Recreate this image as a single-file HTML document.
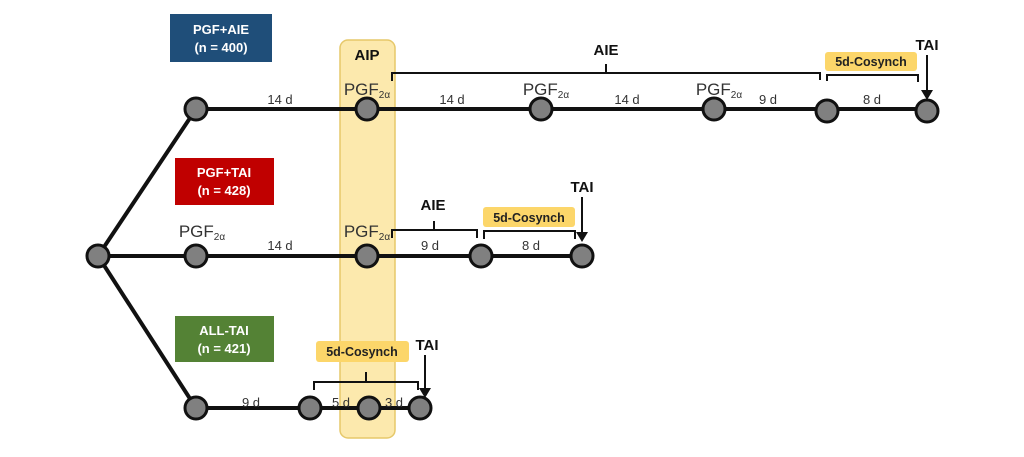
<!DOCTYPE html>
<html><head><meta charset="utf-8"><style>
body{margin:0;background:#fff;width:1024px;height:457px;overflow:hidden}
svg{display:block}
text{font-family:"Liberation Sans",Arial,sans-serif}
</style></head><body>
<svg width="1024" height="457" viewBox="0 0 1024 457">
<rect x="340" y="40" width="55" height="398" rx="8" fill="#fce9ad" stroke="#e6c86a" stroke-width="1.5"/>
<text x="367" y="60" font-size="15" font-weight="bold" text-anchor="middle" fill="#111">AIP</text>
<g stroke="#111" stroke-width="4" fill="none">
<line x1="98" y1="256" x2="196" y2="109"/><line x1="98" y1="256" x2="196" y2="408"/>
<line x1="196" y1="109" x2="927" y2="109"/>
<line x1="98" y1="256" x2="582" y2="256"/>
<line x1="196" y1="408" x2="420" y2="408"/>
</g>
<g stroke="#111" stroke-width="2" fill="none">
<path d="M392 81V73H820V80"/><path d="M606 73V64"/>
<path d="M827 81V75H918V82"/>
<path d="M392 238V230H477V238"/><path d="M434 230V221"/>
<path d="M484 239V231H575V239"/>
<path d="M314 390V382H418V390"/><path d="M366 382V372"/>
<path d="M927 55V92M582 197V234M425 355V390"/>
</g>
<g fill="#111"><path d="M921 90L927 100L933 90Z"/><path d="M576 232L582 242L588 232Z"/><path d="M419 388L425 398L431 388Z"/></g>
<g fill="#808080" stroke="#111" stroke-width="3">
<circle cx="196" cy="109" r="11"/><circle cx="367" cy="109" r="11"/><circle cx="541" cy="109" r="11"/><circle cx="714" cy="109" r="11"/><circle cx="827" cy="111" r="11"/><circle cx="927" cy="111" r="11"/>
<circle cx="98" cy="256" r="11"/><circle cx="196" cy="256" r="11"/><circle cx="367" cy="256" r="11"/><circle cx="481" cy="256" r="11"/><circle cx="582" cy="256" r="11"/>
<circle cx="196" cy="408" r="11"/><circle cx="310" cy="408" r="11"/><circle cx="369" cy="408" r="11"/><circle cx="420" cy="408" r="11"/>
</g>
<rect x="170" y="14" width="102" height="48" fill="#1f4e79"/>
<text x="221" y="34" font-size="13" font-weight="bold" fill="#fff" text-anchor="middle">PGF+AIE</text>
<text x="221" y="52" font-size="13" font-weight="bold" fill="#fff" text-anchor="middle">(n = 400)</text>
<rect x="175" y="158" width="99" height="47" fill="#c00000"/>
<text x="224" y="177" font-size="13" font-weight="bold" fill="#fff" text-anchor="middle">PGF+TAI</text>
<text x="224" y="195" font-size="13" font-weight="bold" fill="#fff" text-anchor="middle">(n = 428)</text>
<rect x="175" y="316" width="99" height="46" fill="#548235"/>
<text x="224" y="335" font-size="13" font-weight="bold" fill="#fff" text-anchor="middle">ALL-TAI</text>
<text x="224" y="353" font-size="13" font-weight="bold" fill="#fff" text-anchor="middle">(n = 421)</text>
<g fill="#fcd66a"><rect x="825" y="52" width="92" height="19" rx="3"/><rect x="483" y="207" width="92" height="20" rx="3"/><rect x="316" y="341" width="93" height="21" rx="3"/></g>
<g font-size="12.5" font-weight="bold" fill="#222" text-anchor="middle">
<text x="871" y="66">5d-Cosynch</text><text x="529" y="222">5d-Cosynch</text><text x="362" y="356">5d-Cosynch</text>
</g>
<g font-size="15" font-weight="bold" fill="#111" text-anchor="middle">
<text x="606" y="55">AIE</text><text x="433" y="210">AIE</text>
<text x="927" y="50">TAI</text><text x="582" y="192">TAI</text><text x="427" y="350">TAI</text>
</g>
<g font-size="17" fill="#333" text-anchor="middle">
<text x="367" y="95">PGF<tspan font-size="10" dy="3">2α</tspan></text>
<text x="546" y="95">PGF<tspan font-size="10" dy="3">2α</tspan></text>
<text x="719" y="95">PGF<tspan font-size="10" dy="3">2α</tspan></text>
<text x="202" y="237">PGF<tspan font-size="10" dy="3">2α</tspan></text>
<text x="367" y="237">PGF<tspan font-size="10" dy="3">2α</tspan></text>
</g>
<g font-size="13" fill="#333" text-anchor="middle">
<text x="280" y="104">14 d</text><text x="452" y="104">14 d</text><text x="627" y="104">14 d</text><text x="768" y="104">9 d</text><text x="872" y="104">8 d</text>
<text x="280" y="250">14 d</text><text x="430" y="250">9 d</text><text x="531" y="250">8 d</text>
<text x="251" y="407">9 d</text><text x="341" y="407">5 d</text><text x="394" y="407">3 d</text>
</g>
</svg>
</body></html>
